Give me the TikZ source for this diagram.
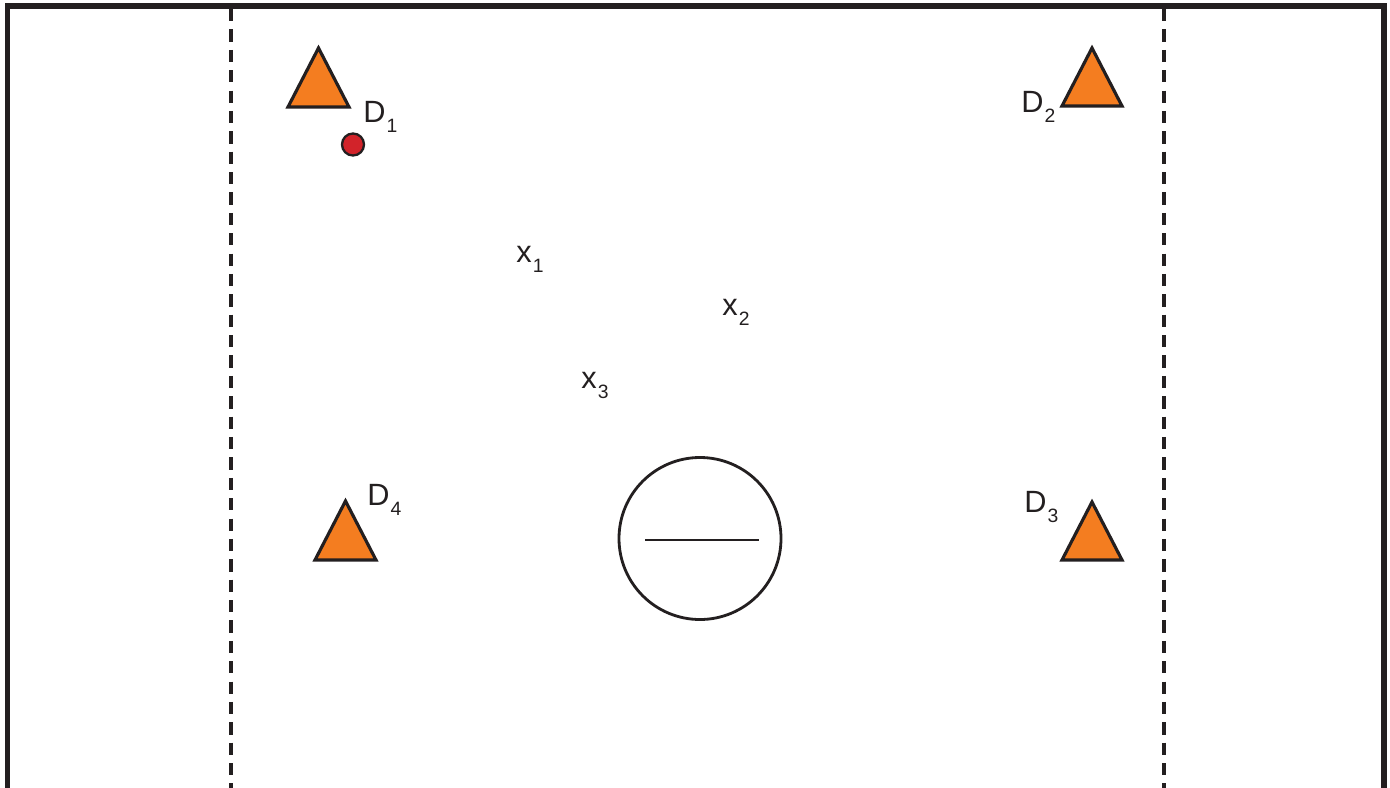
\documentclass[tikz,border=0pt]{standalone}
\usepackage{fontspec}
\setmainfont{Liberation Sans}
\usepackage{tikz}

\definecolor{ink}{HTML}{231F20}
\definecolor{coneorange}{HTML}{F47D20}
\definecolor{ballred}{HTML}{D2232A}

\newcommand{\sublbl}[2]{#1\kern0.6pt\raisebox{-5.8pt}{\fontsize{11}{11}\selectfont #2}}

\tikzset{
  cone/.style={draw=ink, fill=coneorange, line width=1.8pt},
  lbl/.style={inner sep=0pt, anchor=base west, text=ink, font=\fontsize{17.5}{17.5}\selectfont},
}

\begin{document}
\begin{tikzpicture}[x=0.02cm, y=-0.02cm]
  \useasboundingbox (0,0) rectangle (1390,788);

  % field
  \draw[ink, line width=3.2pt] (7.5,790) -- (7.5,6) -- (1384,6) -- (1384,790);
  \draw[ink, line width=1.8pt, dash pattern=on 7pt off 4.6pt] (231,9) -- (231,788);
  \draw[ink, line width=1.8pt, dash pattern=on 7pt off 4.6pt] (1164,9) -- (1164,788);

  % cones
  \draw[cone] (288,107) -- (318.5,48) -- (349,107) -- cycle;
  \draw[cone] (1062,106) -- (1092,48) -- (1122,106) -- cycle;
  \draw[cone] (1062,560) -- (1092,502) -- (1122,560) -- cycle;
  \draw[cone] (315,560) -- (345.5,501) -- (376,560) -- cycle;

  \node[lbl] (d1) at (363,122) {\sublbl{D}{1}};
  \node[lbl] (d2) at (1021,112) {\sublbl{D}{2}};
  \node[lbl] (d3) at (1024,512) {\sublbl{D}{3}};
  \node[lbl] (d4) at (367,505) {\sublbl{D}{4}};

  % ball
  \draw[ink, fill=ballred, line width=1.3pt] (353,144.5) circle (11);

  % positions
  \node[lbl] (x1) at (516,262) {\sublbl{x}{1}};
  \node[lbl] (x2) at (722,315) {\sublbl{x}{2}};
  \node[lbl] (x3) at (581,388) {\sublbl{x}{3}};

  % goal
  \draw[ink, line width=1.6pt] (700,538.5) circle (81);
  \draw[ink, line width=1.6pt] (645,540) -- (759,540);
\end{tikzpicture}
\end{document}
